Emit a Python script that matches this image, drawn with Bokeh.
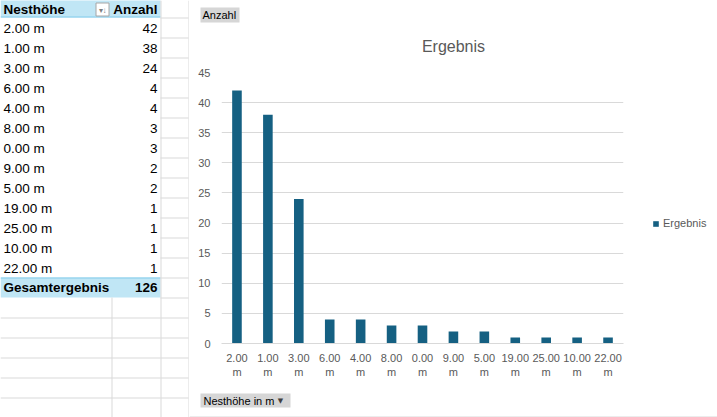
from bokeh.plotting import figure
from bokeh.models import (FactorRange, Range1d, FixedTicker, Legend, LegendItem,
                          ColumnDataSource, CategoricalAxis, CustomJSTickFormatter)
from bokeh.layouts import row, column
from bokeh.embed import file_html
from bokeh.resources import INLINE
from bokeh.core.properties import value

# ---------------- data ----------------
categories = ["2.00 m", "1.00 m", "3.00 m", "6.00 m", "4.00 m", "8.00 m", "0.00 m",
              "9.00 m", "5.00 m", "19.00 m", "25.00 m", "10.00 m", "22.00 m"]
counts = [42, 38, 24, 4, 4, 3, 3, 2, 2, 1, 1, 1, 1]
header_label = "Nesthöhe"
header_value = "Anzahl"
total_label = "Gesamtergebnis"
total_value = 126
y_ticks = [0, 5, 10, 15, 20, 25, 30, 35, 40, 45]
chart_title = "Ergebnis"
legend_label = "Ergebnis"
field_button = "Anzahl"
axis_button = "Nesthöhe in m"

TFONT = "Liberation Sans"
CFONT = "Liberation Sans"
GRID = "#D9D9D9"
HEAD_BG = "#C0E6F5"
HEAD_LINE = "#83CCEB"
BAR = "#156082"
TXT = "#595959"
BTN_BG = "#D6D6D6"
TSIZE = "13.5px"


def pixel_fig(w, h):
    f = figure(width=w, height=h, x_range=Range1d(0, w), y_range=Range1d(h, 0),
               output_backend="svg", toolbar_location=None, min_border=0,
               x_axis_location=None, y_axis_location=None, outline_line_color=None,
               frame_align=False)
    f.grid.visible = False
    f.background_fill_color = "white"
    f.border_fill_color = "white"
    return f


# ---------------- table (left) ----------------
TW, H = 189, 417
tbl = pixel_fig(TW, H)

ROW0 = 17
RH = 20
n = len(categories)
total_top = ROW0 + RH * n

tbl.quad(left=[0, 0], right=[160, 160], top=[-1, total_top], bottom=[ROW0, total_top + RH],
         fill_color=HEAD_BG, line_color=None)
tbl.segment(x0=[0, 0], x1=[160, 160], y0=[ROW0 - 0.5, total_top + 0.5], y1=[ROW0 - 0.5, total_top + 0.5],
            line_color=HEAD_LINE, line_width=1)

hy = [ROW0 + RH * k + 0.5 for k in range(21)]
tbl.segment(x0=[160] * len(hy), x1=[188] * len(hy), y0=hy, y1=hy, line_color=GRID, line_width=1)
ly = [total_top + RH * k + 0.5 for k in range(2, 8)]
tbl.segment(x0=[0] * len(ly), x1=[160] * len(ly), y0=ly, y1=ly, line_color=GRID, line_width=1)
tbl.segment(x0=[160.5, 111.5], x1=[160.5, 111.5], y0=[0, total_top + RH], y1=[H, H],
            line_color=GRID, line_width=1)
tbl.segment(x0=[188.5], x1=[188.5], y0=[0], y1=[H], line_color=GRID, line_width=1)

tbl.quad(left=[95.5], right=[108.5], top=[2.5], bottom=[15.5], fill_color="white", line_color="#A6A6A6")
tbl.text(x=[102], y=[9.5], text=["\u25be\u2193"], text_font_size="8px", text_align="center",
         text_baseline="middle", text_color="#7F7F7F", text_font=value(CFONT))

tbl.text(x=[3], y=[9], text=[header_label], text_font=value(TFONT), text_font_size=TSIZE,
         text_font_style="bold", text_baseline="middle", text_align="left", text_color="black")
tbl.text(x=[157], y=[9], text=[header_value], text_font=value(TFONT), text_font_size=TSIZE,
         text_font_style="bold", text_baseline="middle", text_align="right", text_color="black")

rows_y = [ROW0 + RH * i + RH / 2 + 0.5 for i in range(n)]
tsrc = ColumnDataSource(dict(y=rows_y, lab=categories, val=[str(c) for c in counts]))
tbl.text(x=3, y="y", text="lab", source=tsrc, text_font=value(TFONT), text_font_size=TSIZE,
         text_baseline="middle", text_align="left", text_color="black")
tbl.text(x=157, y="y", text="val", source=tsrc, text_font=value(TFONT), text_font_size=TSIZE,
         text_baseline="middle", text_align="right", text_color="black")

tbl.text(x=[3], y=[total_top + RH / 2], text=[total_label], text_font=value(TFONT),
         text_font_size=TSIZE, text_font_style="bold", text_baseline="middle", text_align="left")
tbl.text(x=[157], y=[total_top + RH / 2], text=[str(total_value)], text_font=value(TFONT),
         text_font_size=TSIZE, text_font_style="bold", text_baseline="middle", text_align="right")

# ---------------- right side geometry ----------------
RW = 717 - TW          # 528
TOP_H = 62
MID_H = 320
BOT_H = H - TOP_H - MID_H   # 35
LW = 77
CW = RW - LW           # 451

# top strip: field button + title
top = pixel_fig(RW, TOP_H)
top.quad(left=[11], right=[50], top=[7], bottom=[22], fill_color=BTN_BG, line_color=None)
top.text(x=[13], y=[14.5], text=[field_button], text_font=value(CFONT), text_font_size="11px",
         text_baseline="middle", text_align="left", text_color="black")
top.text(x=[264], y=[46], text=[chart_title], text_font=value(CFONT), text_font_size="16px",
         text_baseline="middle", text_align="center", text_color=TXT)

# chart
ML, MT = 32, 10
MR = CW - 434
MB = MID_H - (343 - TOP_H)
p = figure(width=CW, height=MID_H, x_range=FactorRange(factors=categories), y_range=Range1d(0, 45),
           output_backend="svg", toolbar_location=None,
           min_border_left=ML, min_border_right=MR, min_border_top=MT, min_border_bottom=MB,
           outline_line_color=None, frame_align=False)
p.background_fill_color = "white"
p.border_fill_color = "white"

src = ColumnDataSource(dict(cat=categories, cnt=counts))
bars = p.vbar(x="cat", top="cnt", width=0.31, source=src, fill_color=BAR, line_color=None)

p.xgrid.visible = False
p.ygrid.grid_line_color = GRID
p.yaxis.ticker = FixedTicker(ticks=y_ticks)
p.yaxis.axis_line_color = None
p.yaxis.major_tick_line_color = None
p.yaxis.minor_tick_line_color = None
p.yaxis.major_tick_out = 0
p.yaxis.major_label_standoff = 11
p.yaxis.major_label_text_font = CFONT
p.yaxis.major_label_text_font_size = "11px"
p.yaxis.major_label_text_color = TXT

xa = p.xaxis[0]
xa.axis_line_color = GRID
xa.major_tick_line_color = None
xa.minor_tick_line_color = None
xa.major_tick_out = 0
xa.major_tick_in = 0
xa.major_label_standoff = 10
xa.major_label_text_font = CFONT
xa.major_label_text_font_size = "11px"
xa.major_label_text_color = TXT
xa.formatter = CustomJSTickFormatter(code="return String(tick).split(' ')[0];")

xa2 = CategoricalAxis(axis_line_color=None, major_tick_line_color=None, minor_tick_line_color=None,
                      major_tick_out=0, major_tick_in=0, major_label_standoff=1,
                      major_label_text_font=CFONT, major_label_text_font_size="11px",
                      major_label_text_color=TXT,
                      formatter=CustomJSTickFormatter(code="return String(tick).split(' ')[1];"))
p.add_layout(xa2, "below")

# legend strip
leg = pixel_fig(LW, MID_H)
swatch = leg.vbar(x=[-100], top=[0], bottom=[0], width=1, fill_color=BAR, line_color=None)
legend = Legend(items=[LegendItem(label=legend_label, renderers=[swatch])],
                location=(12, MID_H - (223 - TOP_H) - 6), orientation="vertical", padding=0,
                margin=0, spacing=0, glyph_width=7, glyph_height=7, label_standoff=4,
                label_height=12, label_text_font=CFONT, label_text_font_size="11px",
                label_text_color=TXT, border_line_color=None, background_fill_alpha=0)
leg.add_layout(legend, "center")

# bottom strip: axis field button + chart border
bot = pixel_fig(RW, BOT_H)
bot.quad(left=[11], right=[101], top=[11], bottom=[25], fill_color=BTN_BG, line_color=None)
bot.text(x=[14], y=[18], text=[axis_button], text_font=value(CFONT), text_font_size="11px",
         text_baseline="middle", text_align="left", text_color="black")
bot.text(x=[91], y=[18], text=["\u25bc"], text_font=value("DejaVu Sans"), text_font_size="7px",
         text_baseline="middle", text_align="center", text_color="#404040")
bot.segment(x0=[0], x1=[RW], y0=[BOT_H - 0.5], y1=[BOT_H - 0.5], line_color=GRID, line_width=1)

right = column(top, row(p, leg), bot)
layout = row(tbl, right)
open("out.html", "w").write(file_html(layout, INLINE))
